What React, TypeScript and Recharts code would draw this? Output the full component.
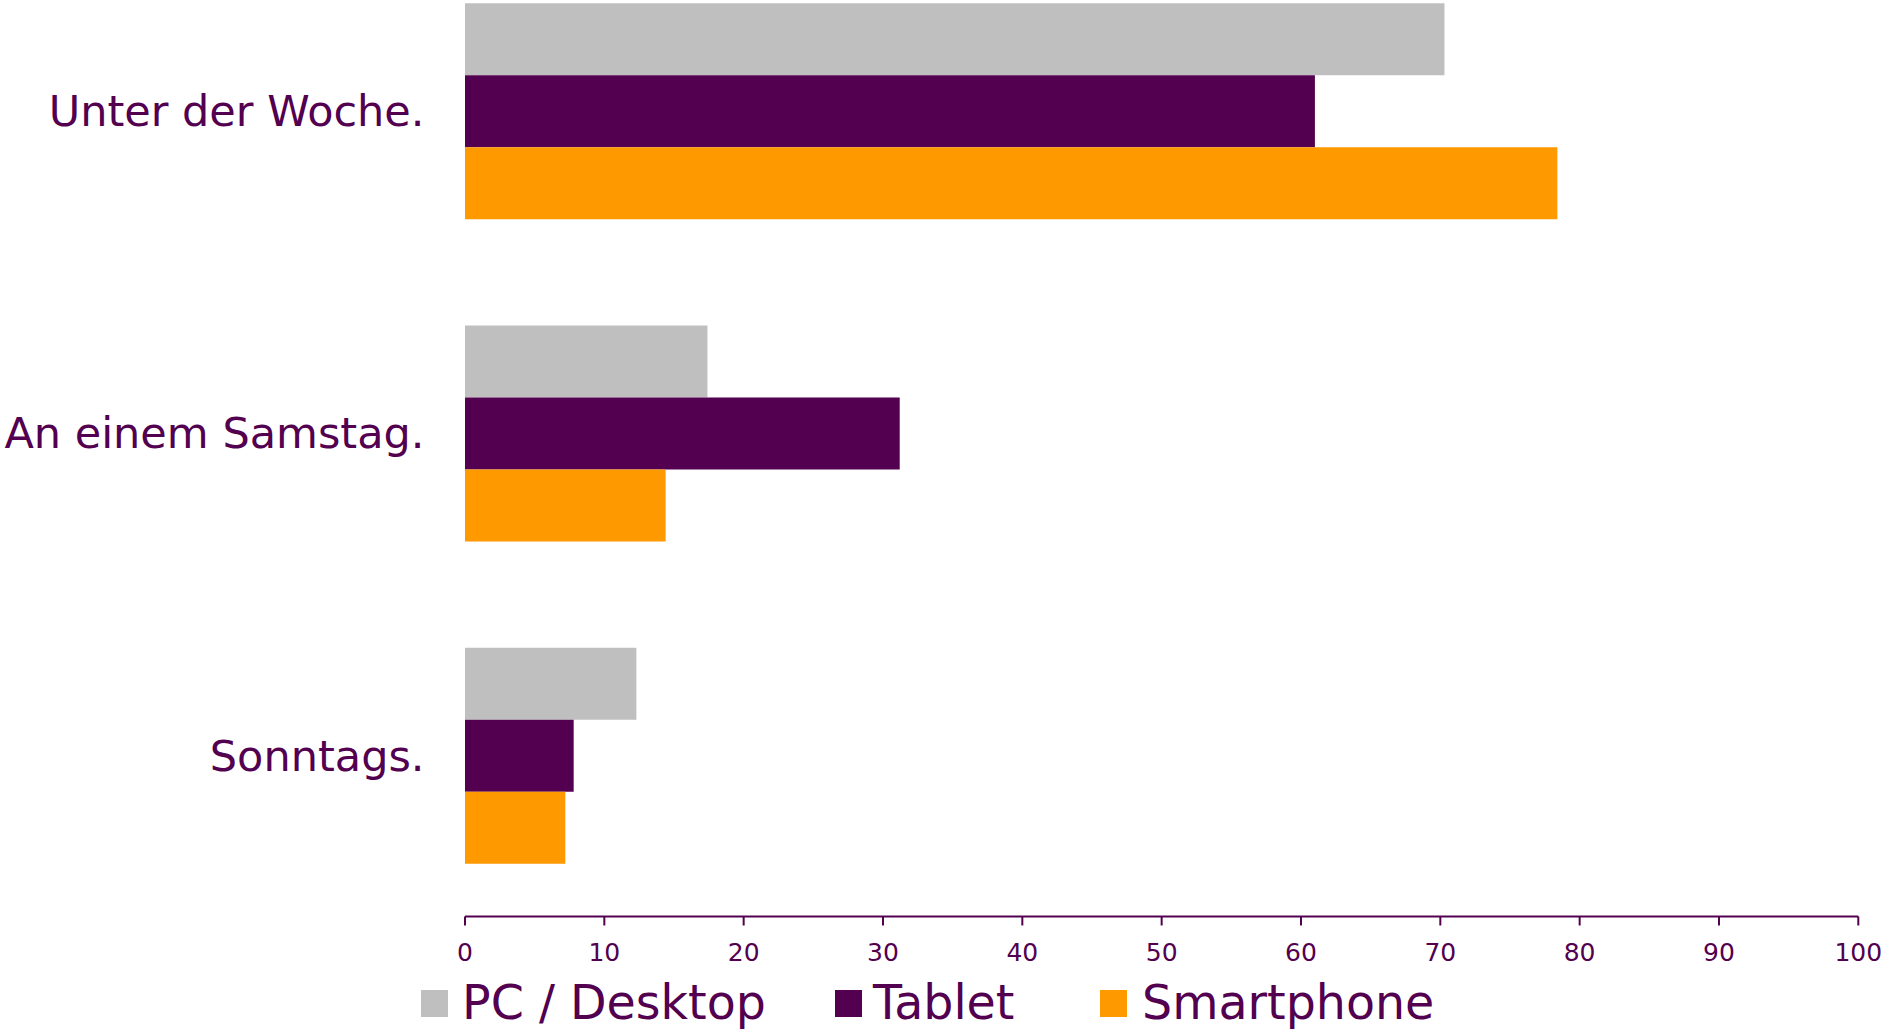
import React from 'react';
import { BarChart, Bar, XAxis, YAxis, Legend } from 'recharts';

const categories = ['Unter der Woche.', 'An einem Samstag.', 'Sonntags.'];
const pcDesktop = [70.3, 17.4, 12.3];
const tablet = [61.0, 31.2, 7.8];
const smartphone = [78.4, 14.4, 7.2];
const xTicks = [0, 10, 20, 30, 40, 50, 60, 70, 80, 90, 100];

const seriesNames = ['PC / Desktop', 'Tablet', 'Smartphone'];
const seriesColors = ['#BFBFBF', '#52004F', '#FF9900'];

const TEXT = '#52004F';
const FONT = '"DejaVu Sans", Verdana, sans-serif';

const data = categories.map((name, i) => ({
  name,
  pc: pcDesktop[i],
  tablet: tablet[i],
  smartphone: smartphone[i],
}));

// legend items keep their own widths so the squares land where the original has them
const itemWidths = [414, 265, 340];
const textGaps = [14, 11, 15];

const renderLegend = () => (
  <div
    style={{
      display: 'flex',
      alignItems: 'center',
      height: 56,
      paddingLeft: 421,
      fontFamily: FONT,
      fontSize: 47.5,
      color: TEXT,
      boxSizing: 'border-box',
    }}
  >
    {seriesNames.map((n, i) => (
      <div key={n} style={{ display: 'flex', alignItems: 'center', width: itemWidths[i], flex: 'none' }}>
        <span style={{ width: 27, height: 27, background: seriesColors[i], marginRight: textGaps[i], flex: 'none' }} />
        <span style={{ whiteSpace: 'nowrap', lineHeight: '56px' }}>{n}</span>
      </div>
    ))}
  </div>
);

const App: React.FC = () => {
  return (
    <div style={{ position: 'absolute', left: 0, top: -60, width: 1887, height: 1093, background: '#fff' }}>
      <BarChart
        width={1887}
        height={1093}
        data={data}
        layout="vertical"
        margin={{ top: 9.5, right: 28.7, left: 0, bottom: 2 }}
        barCategoryGap="16.65%"
        barGap={0}
      >
        <XAxis
          type="number"
          domain={[0, 100]}
          ticks={xTicks}
          interval={0}
          height={58.5}
          stroke={TEXT}
          strokeWidth={2}
          tickSize={9}
          tickMargin={18}
          tick={{ fontSize: 25, fill: TEXT, fontFamily: FONT }}
        />
        <YAxis
          type="category"
          dataKey="name"
          width={465}
          axisLine={false}
          tickLine={false}
          tickSize={0}
          tickMargin={40.5}
          tick={{ fontSize: 43, fill: TEXT, fontFamily: FONT }}
        />
        <Legend verticalAlign="bottom" content={renderLegend} />
        <Bar dataKey="pc" name={seriesNames[0]} fill={seriesColors[0]} isAnimationActive={false} />
        <Bar dataKey="tablet" name={seriesNames[1]} fill={seriesColors[1]} isAnimationActive={false} />
        <Bar dataKey="smartphone" name={seriesNames[2]} fill={seriesColors[2]} isAnimationActive={false} />
      </BarChart>
    </div>
  );
};

export default App;
